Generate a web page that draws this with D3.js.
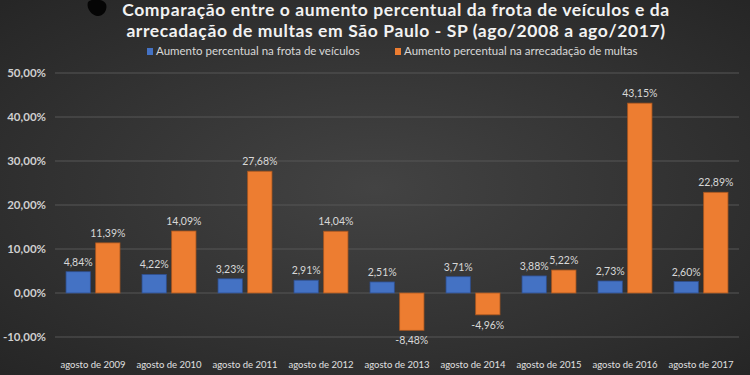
<!DOCTYPE html>
<html>
<head>
<meta charset="utf-8">
<script src="https://cdn.jsdelivr.net/npm/d3@7"></script>
<style>
  body { margin: 0; background: #333; }
  svg { display: block; }
</style>
</head>
<body>
<svg id="chart" width="750" height="375"></svg>
<script>
// Data
var categories = ['agosto de 2009', 'agosto de 2010', 'agosto de 2011', 'agosto de 2012', 'agosto de 2013',
  'agosto de 2014', 'agosto de 2015', 'agosto de 2016', 'agosto de 2017']
var frota = [4.84, 4.22, 3.23, 2.91, 2.51, 3.71, 3.88, 2.73, 2.60]
var multas = [11.39, 14.09, 27.68, 14.04, -8.48, -4.96, 5.22, 43.15, 22.89]
var seriesNames = ['Aumento percentual na frota de veículos', 'Aumento percentual na arrecadação de multas']
var yTicks = [-10, 0, 10, 20, 30, 40, 50]

var colors = ['#4472c4', '#ed7d31']
var font = 'Lato, "Open Sans", sans-serif'

var svg = d3.select('#chart')
var W = 750, H = 375

// Background
var defs = svg.append('defs')
var grad = defs.append('radialGradient').attr('id', 'bg').attr('cx', '50%').attr('cy', '50%').attr('r', '70%')
grad.append('stop').attr('offset', '0%').attr('stop-color', '#434343')
grad.append('stop').attr('offset', '100%').attr('stop-color', '#262626')
svg.append('rect').attr('width', W).attr('height', H).attr('fill', 'url(#bg)')

// Blob at top left of the photo
svg.append('path')
  .attr('d', 'M88,2 C92,-2 104,-1 106,4 C108,10 103,17 97,16 C91,15 86,8 88,2 Z')
  .attr('fill', '#050505')

// Scales
var y = d3.scaleLinear().domain([-10, 50]).range([337, 73])
var x0 = d3.scaleBand().domain(categories).range([55, 739]).paddingInner(0.29).paddingOuter(0.145)
var x1 = d3.scaleBand().domain([0, 1]).range([0, x0.bandwidth()]).paddingInner(0.18)

// Gridlines
svg.append('g').selectAll('line').data(yTicks).join('line')
  .attr('x1', 55).attr('x2', 739)
  .attr('y1', function(d){ return y(d) }).attr('y2', function(d){ return y(d) })
  .attr('stroke', '#575757').attr('stroke-width', 1)

// Y axis labels
var fmt = function(v){ return v.toFixed(2).replace('.', ',') + '%' }
svg.append('g').selectAll('text').data(yTicks).join('text')
  .attr('x', 46).attr('y', function(d){ return y(d) + 4 })
  .attr('text-anchor', 'end')
  .attr('font-family', font).attr('font-size', 11.5).attr('font-weight', 'bold')
  .attr('fill', '#d0d0d0')
  .text(function(d){ return fmt(d) })

// Bars
var groups = svg.append('g').selectAll('g').data(categories).join('g')
  .attr('transform', function(d){ return 'translate(' + x0(d) + ',0)' })

groups.each(function(cat, i){
  var g = d3.select(this)
  var vals = [frota[i], multas[i]]
  vals.forEach(function(v, s){
    var top = y(Math.max(0, v)), bot = y(Math.min(0, v))
    g.append('rect')
      .attr('x', x1(s)).attr('y', top)
      .attr('width', x1.bandwidth()).attr('height', bot - top)
      .attr('fill', colors[s])
      .attr('stroke', s == 0 ? '#2f4f8f' : '#a8561f').attr('stroke-width', 0.8)
    g.append('text')
      .attr('x', x1(s) + x1.bandwidth() / 2)
      .attr('y', v >= 0 ? top - 6 : bot + 14)
      .attr('text-anchor', 'middle')
      .attr('font-family', font).attr('font-size', 10.5)
      .attr('fill', '#d8d8d8')
      .text(fmt(v))
  })
})

// X labels
svg.append('g').selectAll('text').data(categories).join('text')
  .attr('x', function(d){ return x0(d) + x0.bandwidth() / 2 })
  .attr('y', 368)
  .attr('text-anchor', 'middle')
  .attr('font-family', font).attr('font-size', 9.5)
  .attr('fill', '#e0e0e0')
  .text(function(d){ return d })

// Title
var title = ['Comparação entre o aumento percentual da frota de veículos e da',
  'arrecadação de multas em São Paulo - SP (ago/2008 a ago/2017)']
svg.append('g').selectAll('text').data(title).join('text')
  .attr('x', 396).attr('y', function(d, i){ return 16 + i * 21 })
  .attr('text-anchor', 'middle')
  .attr('font-family', font).attr('font-size', 17.5).attr('font-weight', 'bold')
  .attr('letter-spacing', 0.6)
  .attr('fill', '#f2f2f2')
  .text(function(d){ return d })

// Legend
var legendX = [147, 395]
var legend = svg.append('g').selectAll('g').data(seriesNames).join('g')
  .attr('transform', function(d, i){ return 'translate(' + legendX[i] + ',53)' })
legend.append('rect').attr('x', 0).attr('y', -5).attr('width', 6).attr('height', 7)
  .attr('fill', function(d, i){ return colors[i] })
legend.append('text').attr('x', 9).attr('y', 2)
  .attr('font-family', font).attr('font-size', 11.5)
  .attr('fill', '#d8d8d8')
  .text(function(d){ return d })
</script>
</body>
</html>
